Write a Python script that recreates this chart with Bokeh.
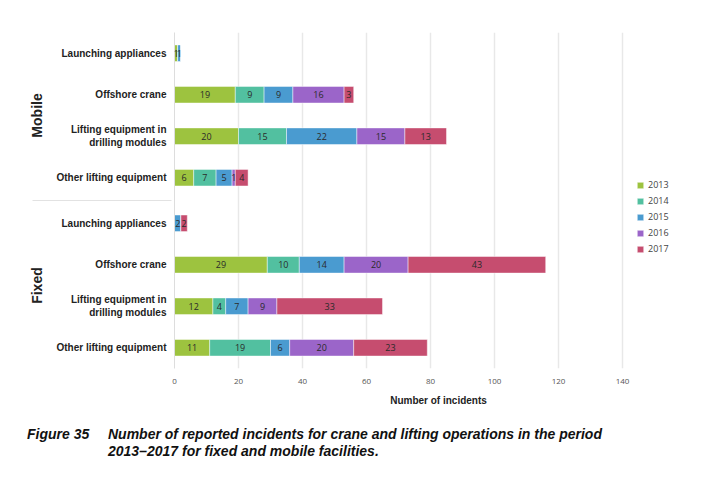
from bokeh.plotting import figure
from bokeh.layouts import column
from bokeh.models import (FactorRange, ColumnDataSource, LabelSet, Legend, LegendItem,
                          FixedTicker, Div)
from bokeh.core.properties import value
from bokeh.embed import file_html
from bokeh.resources import INLINE

# ---- data ----
years = ["2013", "2014", "2015", "2016", "2017"]
groups = ["Mobile", "Fixed"]
equipment = ["Launching appliances", "Offshore crane",
             "Lifting equipment in\ndrilling modules", "Other lifting equipment"]
# order: Mobile (4 categories) then Fixed (4 categories)
y2013 = [1, 19, 20, 6, 0, 29, 12, 11]
y2014 = [0, 9, 15, 7, 0, 10, 4, 19]
y2015 = [1, 9, 22, 5, 2, 14, 7, 6]
y2016 = [0, 16, 15, 1, 0, 20, 9, 20]
y2017 = [0, 3, 13, 4, 2, 43, 33, 23]
x_ticks = [0, 20, 40, 60, 80, 100, 120, 140]
colors = ["#9dc33f", "#52c0a0", "#4a9bd0", "#9b65c9", "#c64d6f"]
caption_fig = "Figure 35"
caption_l1 = "Number of reported incidents for crane and lifting operations in the period"
caption_l2 = "2013\u20132017 for fixed and mobile facilities."

series = [y2013, y2014, y2015, y2016, y2017]
factors = [(g, e) for g in groups for e in equipment]

data = {"factors": factors}
for yr, vals in zip(years, series):
    data[yr] = vals
source = ColumnDataSource(data)

p = figure(width=702, height=415, output_backend="svg", toolbar_location=None,
           y_range=FactorRange(*reversed(factors), group_padding=0.1, range_padding=0),
           x_range=(0, 165),
           min_border_left=174, min_border_right=0, min_border_top=32,
           min_border_bottom=47)
p.outline_line_color = None
p.background_fill_color = "white"

renderers = p.hbar_stack(years, y="factors", height=0.4, color=colors, source=source,
                         line_color="white", line_alpha=0.45, line_width=1)

# bar value labels
lx, ly, lt = [], [], []
cum = [0] * len(factors)
for vals in series:
    for i, v in enumerate(vals):
        if v > 0:
            lx.append(cum[i] + v / 2)
            ly.append(factors[i])
            lt.append(str(v))
        cum[i] += v
lab_src = ColumnDataSource(dict(x=lx, y=ly, t=lt))
p.add_layout(LabelSet(x="x", y="y", text="t", source=lab_src, text_align="center",
                      text_baseline="middle", text_font=value("Open Sans"),
                      text_font_size=value("9px"), text_color=value("#2a2a2a")))

# axes
p.xaxis.ticker = FixedTicker(ticks=x_ticks)
p.xaxis.axis_line_color = None
p.xaxis.major_tick_line_color = None
p.xaxis.minor_tick_line_color = None
p.xaxis.major_tick_out = 0
p.xaxis.major_label_standoff = 10
p.xaxis.major_label_text_font = "Open Sans"
p.xaxis.major_label_text_font_size = "8px"
p.xaxis.major_label_text_color = "#555555"
p.xaxis.axis_label = "Number of incidents"
p.xaxis.axis_label_text_font = "Liberation Sans"
p.xaxis.axis_label_text_font_style = "bold"
p.xaxis.axis_label_text_font_size = "10px"
p.xaxis.axis_label_text_color = "#222222"
p.xaxis.axis_label_standoff = 8

p.yaxis.axis_line_color = "#dddddd"
p.yaxis.major_tick_line_color = None
p.yaxis.major_tick_out = 0
p.yaxis.major_label_standoff = 8
p.yaxis.major_label_text_font = "Liberation Sans"
p.yaxis.major_label_text_font_style = "bold"
p.yaxis.major_label_text_font_size = "10px"
p.yaxis.major_label_text_color = "#222222"
p.yaxis.group_text_font = "Liberation Sans"
p.yaxis.group_text_font_style = "bold"
p.yaxis.group_text_font_size = "14px"
p.yaxis.group_text_color = "#222222"
p.yaxis.separator_line_color = "#e2e2e2"
p.yaxis.separator_line_width = 1

p.ygrid.grid_line_color = None
p.xgrid.grid_line_color = "#e8e8e8"
p.xgrid.grid_line_width = 1.5

# legend
legend = Legend(items=[LegendItem(label=yr, renderers=[r]) for yr, r in zip(years, renderers)],
                location=(462, 113), border_line_color=None, background_fill_alpha=0,
                glyph_width=8, glyph_height=8, label_text_font="Open Sans",
                label_text_font_size="9px", label_text_color="#444444",
                label_height=8, spacing=3, padding=0, margin=0, label_standoff=4)
p.add_layout(legend)

# caption
cap_style = ("position:absolute;top:11px;font-family:'Liberation Sans',Arial,sans-serif;"
             "font-size:14px;font-weight:bold;font-style:italic;color:#111111;"
             "line-height:17px;white-space:nowrap;margin:0;")
cap_html = (f'<div style="position:relative;width:702px;height:65px;margin:0;">'
            f'<div style="{cap_style}left:27px;">{caption_fig}</div>'
            f'<div style="{cap_style}left:108px;">{caption_l1}<br>{caption_l2}</div>'
            f'</div>')
cap = Div(text=cap_html, width=702, height=65, margin=0)

open("out.html", "w").write(file_html(column(p, cap, spacing=0), INLINE))
